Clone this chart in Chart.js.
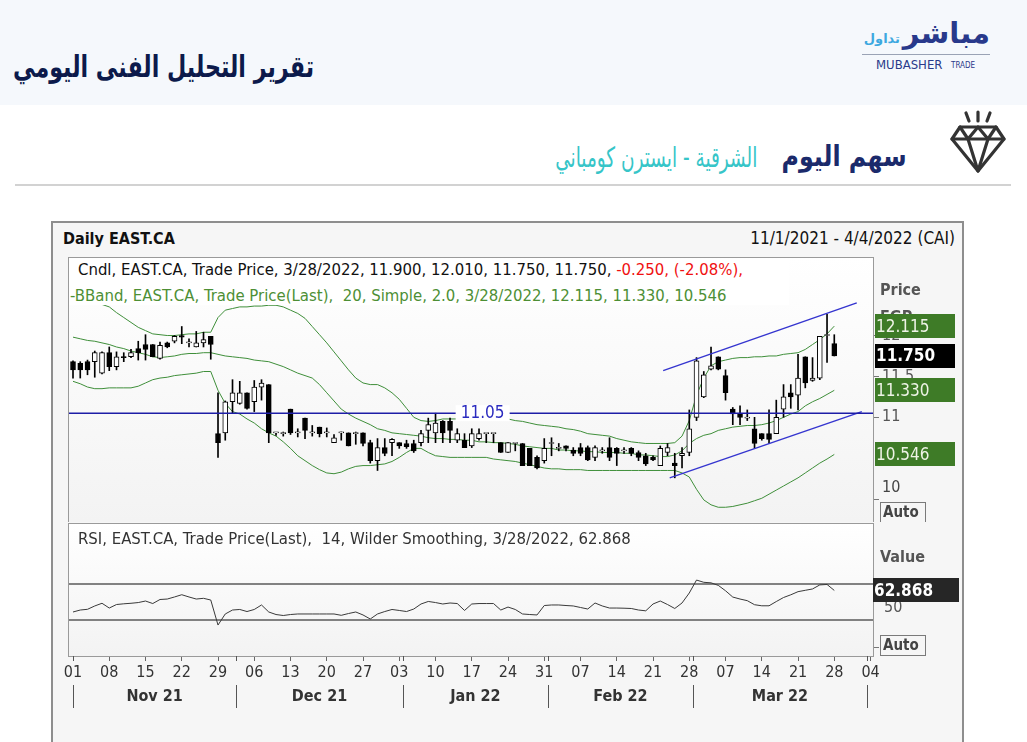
<!DOCTYPE html>
<html lang="ar">
<head>
<meta charset="utf-8">
<title>EAST.CA</title>
<script src="https://cdn.jsdelivr.net/npm/chart.js@4.4.1/dist/chart.umd.min.js"></script>
<style>
  body { margin: 0; width: 1027px; height: 742px; overflow: hidden; background: #fff; position: relative; }
  .abs { position: absolute; white-space: nowrap; }
  .ar { font-family: "DejaVu Sans", sans-serif; direction: rtl; }
  .cf { font-family: "DejaVu Sans Condensed", "DejaVu Sans", sans-serif; }
  #band { left: 0; top: 0; width: 1027px; height: 105px; background: #f5f8fc; }
  #frame { left: 51px; top: 221px; width: 913px; height: 540px; box-sizing: border-box;
           border: 2px solid #8e8e8e; background: #f6f6f6; }
  canvas { position: absolute; }
</style>
</head>
<body>
<div id="band" class="abs"></div>
<div class="abs ar" style="left:13px; top:49px; font-size:30px; font-weight:bold; color:#0c1a4b; transform:scaleX(0.74); transform-origin:left top;">تقرير التحليل الفنى اليومي</div>

<!-- logo -->
<div class="abs ar" style="right:37px; top:16px; font-size:29px; font-weight:bold; color:#28398b;">مباشر</div>
<div class="abs ar" style="right:127px; top:31px; font-size:13px; font-weight:bold; color:#3da8e0;">تداول</div>
<div class="abs" style="left:862px; top:54px; width:128px; height:1px; background:#9aa3b5;"></div>
<div class="abs cf" style="left:876px; top:57px; font-size:13px; color:#2a3a8a;">MUBASHER</div>
<div class="abs cf" style="left:951px; top:61px; font-size:8px; color:#2a3a8a;">TRADE</div>

<svg class="abs" style="left:946px; top:108px;" width="64" height="70" viewBox="0 0 64 70">
  <g stroke="#333" stroke-width="3.2" fill="none" stroke-linejoin="round" stroke-linecap="round">
    <line x1="20" y1="5" x2="23" y2="13"/>
    <line x1="32" y1="4" x2="32" y2="13"/>
    <line x1="44" y1="5" x2="41" y2="13"/>
    <polygon points="14,19 50,19 58,31 32,63 6,31"/>
    <line x1="6" y1="31" x2="58" y2="31"/>
    <polyline points="14,19 22,31 32,19 42,31 50,19"/>
    <polyline points="22,31 32,63 42,31"/>
  </g>
</svg>
<div class="abs ar" style="right:120px; top:139px; font-size:29px; font-weight:bold; color:#1b2a6b; transform:scaleX(0.82); transform-origin:right top;">سهم اليوم</div>
<div class="abs ar" style="right:270px; top:141px; font-size:28px; color:#36c5c8; transform:scaleX(0.66); transform-origin:right top;">الشرقية - ايسترن كومباني</div>
<div class="abs" style="left:15px; top:184px; width:996px; height:2px; background:#d2d2d2;"></div>

<div id="frame" class="abs"></div>
<div class="abs cf" style="left:63px; top:229px; font-size:16px; font-weight:bold; color:#111;">Daily EAST.CA</div>
<div class="abs cf" style="right:72px; top:228px; font-size:17px; color:#111;">11/1/2021 - 4/4/2022 (CAI)</div>

<canvas id="price" width="910" height="300" style="left:52px; top:222px; width:910px; height:300px;"></canvas>
<canvas id="rsi" width="910" height="200" style="left:52px; top:522px; width:910px; height:200px;"></canvas>

<div class="abs cf" style="left:69px; top:259px; width:720px; height:46px; background:#fff;"></div>
<div class="abs cf" style="left:78px; top:260px; font-size:16.6px; color:#111;">Cndl, EAST.CA, Trade Price, 3/28/2022, 11.900, 12.010, 11.750, 11.750, <span style="color:#f01010;">-0.250, (-2.08%),</span></div>
<div class="abs cf" style="left:70px; top:286px; font-size:16.6px; color:#4d8f35;">-BBand, EAST.CA, Trade Price(Last),&nbsp; 20, Simple, 2.0, 3/28/2022, 12.115, 11.330, 10.546</div>
<div class="abs cf" style="left:78px; top:529px; font-size:16.6px; color:#333;">RSI, EAST.CA, Trade Price(Last),&nbsp; 14, Wilder Smoothing, 3/28/2022, 62.868</div>

<script>
const FONT = '"DejaVu Sans Condensed", "DejaVu Sans", sans-serif';

// one slot per trading day: 0 = 1 Nov 2021 ... 105 = 28 Mar 2022
const openP = [11.68,11.66,11.68,11.68,11.54,11.79,11.62,11.74,11.74,11.84,
  11.89,11.89,11.72,11.91,11.93,12.00,11.91,11.86,11.91,11.99,
  10.80,10.81,11.19,11.17,11.30,11.19,11.37,11.40,10.81,10.80,
  11.10,10.81,10.99,10.81,10.88,10.81,10.69,10.81,10.81,10.80,
  10.81,10.69,10.47,10.63,10.69,10.69,10.68,10.68,10.69,10.84,
  10.81,10.95,10.95,10.72,10.72,10.65,10.74,10.80,10.80,10.69,
  10.57,10.68,10.68,10.62,10.51,10.47,10.68,10.62,10.65,10.60,
  10.63,10.63,10.51,10.59,10.63,10.62,10.59,10.62,10.57,10.53,
  10.51,10.41,10.57,10.44,10.53,10.57,11.00,11.25,11.59,11.74,
  11.51,11.10,11.05,10.99,10.86,10.80,10.80,10.80,11.10,11.30,
  11.27,11.74,11.45,11.48,12.00,11.90];
const highP = [11.69,11.68,11.70,11.81,11.80,11.86,11.80,11.79,11.83,11.93,
  12.01,11.89,11.92,11.92,12.00,12.11,11.96,12.05,12.04,11.99,
  11.30,11.20,11.46,11.44,11.30,11.45,11.46,11.40,10.81,10.82,
  11.10,10.86,10.99,10.90,10.88,10.87,10.79,10.82,10.81,10.82,
  10.81,10.72,10.74,10.74,10.74,10.69,10.72,10.72,10.84,10.99,
  11.05,10.96,10.99,10.86,10.80,10.86,10.86,10.80,10.80,10.69,
  10.69,10.68,10.68,10.62,10.53,10.74,10.75,10.68,10.65,10.63,
  10.68,10.65,10.65,10.63,10.75,10.63,10.63,10.63,10.59,10.56,
  10.53,10.65,10.68,10.56,10.63,11.09,11.73,11.56,11.86,11.74,
  11.58,11.12,11.14,11.09,11.00,10.80,11.09,11.21,11.40,11.40,
  11.77,11.74,11.73,11.99,12.26,12.01];
const lowP = [11.48,11.48,11.52,11.49,11.53,11.57,11.58,11.68,11.73,11.70,
  11.70,11.74,11.71,11.85,11.91,11.90,11.86,11.86,11.86,11.71,
  10.51,10.72,11.05,11.16,11.10,11.07,11.21,10.69,10.78,10.77,
  10.79,10.76,10.74,10.77,10.76,10.76,10.69,10.72,10.65,10.67,
  10.65,10.44,10.35,10.53,10.53,10.62,10.62,10.57,10.65,10.69,
  10.69,10.69,10.69,10.69,10.63,10.63,10.72,10.69,10.69,10.57,
  10.57,10.59,10.41,10.41,10.37,10.44,10.53,10.59,10.59,10.53,
  10.53,10.47,10.47,10.56,10.47,10.41,10.56,10.53,10.47,10.41,
  10.47,10.41,10.53,10.26,10.38,10.53,10.96,11.24,11.58,11.58,
  11.21,10.91,10.91,10.96,10.62,10.72,10.68,10.80,11.00,11.11,
  11.09,11.36,11.44,11.46,11.67,11.75];
const closeP = [11.58,11.58,11.58,11.79,11.79,11.62,11.74,11.73,11.79,11.79,
  11.83,11.74,11.88,11.86,11.99,11.98,11.91,11.91,11.95,11.89,
  10.69,11.19,11.30,11.30,11.11,11.37,11.42,10.81,10.81,10.80,
  10.81,10.81,10.84,10.81,10.80,10.81,10.75,10.81,10.65,10.80,
  10.68,10.47,10.63,10.56,10.73,10.65,10.64,10.59,10.80,10.91,
  10.93,10.81,10.84,10.80,10.63,10.80,10.80,10.80,10.80,10.57,
  10.69,10.68,10.41,10.41,10.38,10.62,10.68,10.62,10.62,10.56,
  10.56,10.48,10.63,10.59,10.51,10.56,10.59,10.56,10.51,10.43,
  10.48,10.62,10.63,10.41,10.56,10.86,11.69,11.52,11.63,11.59,
  11.30,11.04,11.00,10.99,10.68,10.74,10.73,11.00,11.25,11.25,
  11.48,11.42,11.48,11.99,12.00,11.75];

// Bollinger bands (20, simple, 2.0)
const bbUpper = [12.48,12.47,12.44,12.42,12.38,12.35,12.28,12.22,12.16,12.10,
  12.06,12.02,12.01,12.00,12.00,12.01,12.02,12.02,12.04,12.04,
  12.22,12.31,12.33,12.35,12.35,12.36,12.36,12.37,12.37,12.35,
  12.31,12.27,12.21,12.11,12.01,11.91,11.80,11.69,11.58,11.48,
  11.42,11.40,11.40,11.36,11.30,11.22,11.11,11.00,10.96,10.95,
  10.96,10.98,10.98,10.98,10.98,10.98,10.98,10.98,10.98,10.98,
  10.98,10.96,10.95,10.93,10.91,10.90,10.89,10.88,10.86,10.85,
  10.83,10.80,10.79,10.78,10.77,10.74,10.72,10.70,10.69,10.68,
  10.68,10.68,10.68,10.69,10.77,10.96,11.27,11.48,11.63,11.68,
  11.70,11.72,11.73,11.73,11.74,11.74,11.75,11.75,11.77,11.78,
  11.79,11.83,11.89,11.95,12.02,12.115];
const bbMiddle = [11.98,11.96,11.94,11.93,11.91,11.89,11.86,11.84,11.81,11.79,
  11.77,11.74,11.73,11.74,11.75,11.77,11.78,11.78,11.79,11.79,
  11.77,11.75,11.74,11.73,11.72,11.70,11.69,11.68,11.65,11.62,
  11.58,11.54,11.51,11.48,11.40,11.30,11.20,11.10,11.04,10.99,
  10.95,10.91,10.86,10.84,10.81,10.80,10.79,10.78,10.77,10.75,
  10.74,10.74,10.73,10.73,10.72,10.72,10.70,10.70,10.69,10.69,
  10.68,10.67,10.65,10.64,10.63,10.62,10.62,10.60,10.60,10.59,
  10.59,10.58,10.58,10.57,10.57,10.57,10.56,10.56,10.54,10.54,
  10.53,10.52,10.52,10.54,10.59,10.68,10.74,10.78,10.80,10.84,
  10.86,10.88,10.89,10.90,10.90,10.91,10.93,10.96,11.00,11.04,
  11.07,11.14,11.19,11.23,11.28,11.33];
const bbLower = [11.44,11.41,11.37,11.35,11.35,11.36,11.36,11.36,11.36,11.38,
  11.42,11.46,11.48,11.49,11.51,11.52,11.53,11.54,11.56,11.56,
  11.33,11.17,11.07,11.04,10.98,10.93,10.86,10.81,10.77,10.70,
  10.62,10.53,10.47,10.41,10.36,10.32,10.31,10.33,10.37,10.40,
  10.41,10.41,10.42,10.43,10.46,10.51,10.57,10.62,10.62,10.57,
  10.53,10.52,10.51,10.51,10.51,10.51,10.51,10.51,10.49,10.48,
  10.47,10.46,10.44,10.42,10.40,10.38,10.37,10.37,10.36,10.36,
  10.36,10.35,10.35,10.35,10.35,10.35,10.35,10.35,10.35,10.35,
  10.35,10.35,10.35,10.35,10.32,10.27,10.12,9.99,9.93,9.90,
  9.90,9.91,9.93,9.95,9.98,10.01,10.06,10.11,10.16,10.21,
  10.26,10.32,10.38,10.44,10.49,10.546];

// RSI (14, Wilder)
const rsi = [38.9,41.1,41.9,45.6,48.6,43.3,47.2,48.0,48.6,49.4,
  51.1,48.3,52.8,53.3,55.6,58.1,55.6,53.3,54.1,52.2,
  24.4,36.7,41.1,41.7,39.4,41.7,46.7,38.9,36.1,35.0,
  36.1,36.7,36.7,36.7,36.7,36.7,36.7,35.2,37.2,38.9,
  35.6,31.1,36.7,39.4,41.7,40.6,39.4,42.2,47.8,50.6,
  49.4,47.8,48.9,48.3,40.6,47.8,48.3,48.3,48.3,41.1,
  44.4,41.7,36.7,36.1,35.6,46.1,46.7,46.7,46.1,45.6,
  43.9,42.2,48.9,45.6,43.3,43.3,43.1,42.8,41.1,40.2,
  47.8,51.1,47.2,42.8,48.9,60.0,74.4,71.9,71.3,68.5,
  62.5,55.5,53.3,51.5,47.0,45.8,45.8,50.5,55.0,58.0,
  61.5,63.0,64.5,69.0,69.5,62.868];
const rsiLevels = [70, 30];

// drawn levels: support line and rising channel (slot, price)
const supportLevel = 11.05;
const channelTop = [[81.4, 11.57], [108.1, 12.40]];
const channelBottom = [[82.3, 10.26], [108.8, 11.07]];

// axis: Monday ticks and month boundaries (slot units)
const tickSlots = [0,5,10,15,20,25,30,35,40,45,50,55,60,65,70,75,80,85,90,95,100,105,110];
const tickLabels = ['01','08','15','22','29','06','13','20','27','03','10','17','24','31','07','14','21','28','07','14','21','28','04'];
const monthEdges = [0, 22.5, 45.5, 65.5, 85.5, 109.5];
const monthNames = ['Nov 21','Dec 21','Jan 22','Feb 22','Mar 22'];

const xMin = -0.69, xMax = 110.34;
const last = closeP.length - 1;
const slots = closeP.map((_, i) => i);

function plotBackground(chart) {
  const {ctx, chartArea: a} = chart;
  const g = ctx.createLinearGradient(0, a.top, 0, a.bottom);
  g.addColorStop(0, '#ffffff');
  g.addColorStop(1, '#f3f3f3');
  ctx.save();
  ctx.fillStyle = g;
  ctx.fillRect(a.left, a.top, a.right - a.left, a.bottom - a.top);
  ctx.restore();
}

function plotBorder(chart) {
  const {ctx, chartArea: a} = chart;
  ctx.save();
  ctx.strokeStyle = '#9a9a9a';
  ctx.lineWidth = 1;
  ctx.strokeRect(a.left + 0.5, a.top + 0.5, a.right - a.left, a.bottom - a.top);
  ctx.restore();
}

function valueBox(ctx, x, y, w, text, bg, fg, bold) {
  ctx.fillStyle = bg;
  ctx.fillRect(x, Math.round(y) - 12, w, 24);
  ctx.fillStyle = fg;
  ctx.font = (bold ? 'bold ' : '') + '17px ' + FONT;
  ctx.textAlign = 'left';
  ctx.textBaseline = 'middle';
  ctx.fillText(text, x + 1, y + 1);
}

function autoBox(ctx, x, y) {
  ctx.fillStyle = '#f6f6f6';
  ctx.fillRect(x, y, 45, 20);
  ctx.strokeStyle = '#7a7a7a';
  ctx.lineWidth = 1;
  ctx.strokeRect(x + 0.5, y + 0.5, 45, 20);
  ctx.fillStyle = '#444';
  ctx.font = 'bold 15px ' + FONT;
  ctx.textAlign = 'left';
  ctx.textBaseline = 'middle';
  ctx.fillText('Auto', x + 3, y + 11);
}

const priceDecor = {
  id: 'priceDecor',
  beforeDraw: plotBackground,
  afterDraw(chart) {
    const {ctx, chartArea: a} = chart;
    const x = chart.scales.x, y = chart.scales.y;
    plotBorder(chart);
    ctx.save();
    // separator under the price pane across the axis strip
    ctx.strokeStyle = '#9a9a9a';
    ctx.beginPath();
    ctx.moveTo(a.right, a.bottom + 0.5);
    ctx.lineTo(chart.width, a.bottom + 0.5);
    ctx.stroke();

    // support label
    const ly = y.getPixelForValue(supportLevel);
    const lx = x.getPixelForValue(56.5);
    ctx.fillStyle = '#ffffff';
    ctx.fillRect(lx - 27, ly - 8, 54, 16);
    ctx.fillStyle = '#2b2bbf';
    ctx.font = '17px ' + FONT;
    ctx.textAlign = 'center';
    ctx.textBaseline = 'middle';
    ctx.fillText(supportLevel.toFixed(2), lx, ly);

    // axis captions
    ctx.fillStyle = '#555';
    ctx.font = 'bold 16px ' + FONT;
    ctx.textAlign = 'left';
    ctx.fillText('Price', a.right + 7, 69);
    ctx.fillText('EGP', a.right + 7, 96);
    ctx.font = '16px ' + FONT;
    ctx.fillStyle = '#444';
    ctx.fillText('10', a.right + 9, y.getPixelForValue(10) - 11);

    const bx = a.right + 2, bw = 80;
    valueBox(ctx, bx, y.getPixelForValue(bbUpper[last]), bw, bbUpper[last].toFixed(3), '#3e7b27', '#eef3e6', false);
    valueBox(ctx, bx, y.getPixelForValue(closeP[last]), bw, closeP[last].toFixed(3), '#000000', '#ffffff', true);
    valueBox(ctx, bx, y.getPixelForValue(bbMiddle[last]), bw, bbMiddle[last].toFixed(3), '#3e7b27', '#eef3e6', false);
    valueBox(ctx, bx, y.getPixelForValue(bbLower[last]), bw, bbLower[last].toFixed(3), '#3e7b27', '#eef3e6', false);
    autoBox(ctx, a.right + 7, 280);
    ctx.restore();
  }
};

const rsiDecor = {
  id: 'rsiDecor',
  beforeDraw: plotBackground,
  afterDraw(chart) {
    const {ctx, chartArea: a} = chart;
    const x = chart.scales.x, y = chart.scales.y;
    plotBorder(chart);
    ctx.save();
    // month boundaries and names
    ctx.strokeStyle = '#555';
    ctx.lineWidth = 1;
    monthEdges.forEach(v => {
      const px = Math.round(x.getPixelForValue(v)) + 0.5;
      ctx.beginPath();
      ctx.moveTo(px, 163); ctx.lineTo(px, 186);
      ctx.moveTo(px, a.bottom); ctx.lineTo(px, a.bottom + 5);
      ctx.stroke();
    });
    ctx.fillStyle = '#333';
    ctx.font = 'bold 16px ' + FONT;
    ctx.textAlign = 'center';
    ctx.textBaseline = 'middle';
    monthNames.forEach((m, i) => {
      const mid = (x.getPixelForValue(monthEdges[i]) + x.getPixelForValue(monthEdges[i + 1])) / 2;
      ctx.fillText(m, mid, 175);
    });

    ctx.fillStyle = '#555';
    ctx.textAlign = 'left';
    ctx.fillText('Value', a.right + 7, 36);
    valueBox(ctx, a.right, y.getPixelForValue(rsi[last]), 86, rsi[last].toFixed(3), '#262626', '#ffffff', true);
    autoBox(ctx, a.right + 7, 113);
    ctx.restore();
  }
};

new Chart(document.getElementById('price'), {
  type: 'bar',
  data: {
    datasets: [
      { type: 'line', data: [{x: xMin, y: supportLevel}, {x: xMax, y: supportLevel}],
        borderColor: '#1d1da6', borderWidth: 1.4, pointRadius: 0, order: 0 },
      { type: 'line', data: channelTop.map(p => ({x: p[0], y: p[1]})),
        borderColor: '#3535cf', borderWidth: 1.4, pointRadius: 0, order: 0 },
      { type: 'line', data: channelBottom.map(p => ({x: p[0], y: p[1]})),
        borderColor: '#3535cf', borderWidth: 1.4, pointRadius: 0, order: 0 },
      { data: slots.map(i => ({x: i, y: [openP[i], closeP[i]]})),
        backgroundColor: c => closeP[c.dataIndex] >= openP[c.dataIndex] ? '#ffffff' : '#000000',
        borderColor: '#000', borderWidth: 1, borderSkipped: false,
        barThickness: 5, grouped: false, minBarLength: 1, order: 1 },
      { data: slots.map(i => ({x: i, y: [lowP[i], highP[i]]})),
        backgroundColor: '#000', borderWidth: 0,
        barThickness: 1, grouped: false, minBarLength: 1, order: 2 },
      { type: 'line', data: slots.map(i => ({x: i, y: bbUpper[i]})),
        borderColor: '#3f8f3a', borderWidth: 1, pointRadius: 0, order: 3 },
      { type: 'line', data: slots.map(i => ({x: i, y: bbMiddle[i]})),
        borderColor: '#3f8f3a', borderWidth: 1, pointRadius: 0, order: 3 },
      { type: 'line', data: slots.map(i => ({x: i, y: bbLower[i]})),
        borderColor: '#3f8f3a', borderWidth: 1, pointRadius: 0, order: 3 }
    ]
  },
  options: {
    responsive: false,
    animation: false,
    events: [],
    layout: { padding: { left: 16, top: 35, right: 0, bottom: 0 } },
    plugins: { legend: { display: false }, tooltip: { enabled: false } },
    scales: {
      x: { type: 'linear', min: xMin, max: xMax, offset: false, display: false },
      y: {
        position: 'right', min: 9.72, max: 12.96,
        afterBuildTicks: s => { s.ticks = [10, 11, 11.5, 12].map(v => ({value: v})); },
        ticks: { callback: v => v === 10 ? '' : String(v), color: '#555', padding: 3,
                 font: { family: FONT, size: 16 } },
        grid: { drawOnChartArea: false, tickLength: 6, color: '#777' },
        border: { display: false },
        afterFit: s => { s.width = 89; s.paddingTop = 0; s.paddingBottom = 0; }
      }
    }
  },
  plugins: [priceDecor]
});

new Chart(document.getElementById('rsi'), {
  type: 'line',
  data: {
    datasets: [
      { data: slots.map(i => ({x: i, y: rsi[i]})),
        borderColor: '#3a3a3a', borderWidth: 1, pointRadius: 0 },
      ...rsiLevels.map(v => ({ data: [{x: xMin, y: v}, {x: xMax, y: v}],
        borderColor: '#5a5a5a', borderWidth: 1.5, pointRadius: 0 }))
    ]
  },
  options: {
    responsive: false,
    animation: false,
    events: [],
    layout: { padding: { left: 16, top: 1, right: 0, bottom: 0 } },
    plugins: { legend: { display: false }, tooltip: { enabled: false } },
    scales: {
      x: {
        type: 'linear', min: xMin, max: xMax, offset: false,
        afterBuildTicks: s => { s.ticks = tickSlots.map(v => ({value: v})); },
        ticks: { autoSkip: false, maxRotation: 0, callback: (v, i) => tickLabels[i],
                 color: '#333', padding: 2, font: { family: FONT, size: 16 } },
        grid: { drawOnChartArea: false, tickLength: 5, color: '#666' },
        border: { display: false },
        afterFit: s => { s.height = 66; s.paddingLeft = 0; s.paddingRight = 0; }
      },
      y: {
        position: 'right', min: -10, max: 137.8,
        afterBuildTicks: s => { s.ticks = [0, 50].map(v => ({value: v})); },
        ticks: { callback: v => v === 50 ? '50' : '', color: '#555', padding: 5, labelOffset: 6,
                 font: { family: FONT, size: 16 } },
        grid: { drawOnChartArea: false, tickLength: 6,
                color: c => (c.tick && c.tick.value === 0) ? '#777' : 'rgba(0,0,0,0)' },
        border: { display: false },
        afterFit: s => { s.width = 89; s.paddingTop = 0; s.paddingBottom = 0; }
      }
    }
  },
  plugins: [rsiDecor]
});
</script>
</body>
</html>
